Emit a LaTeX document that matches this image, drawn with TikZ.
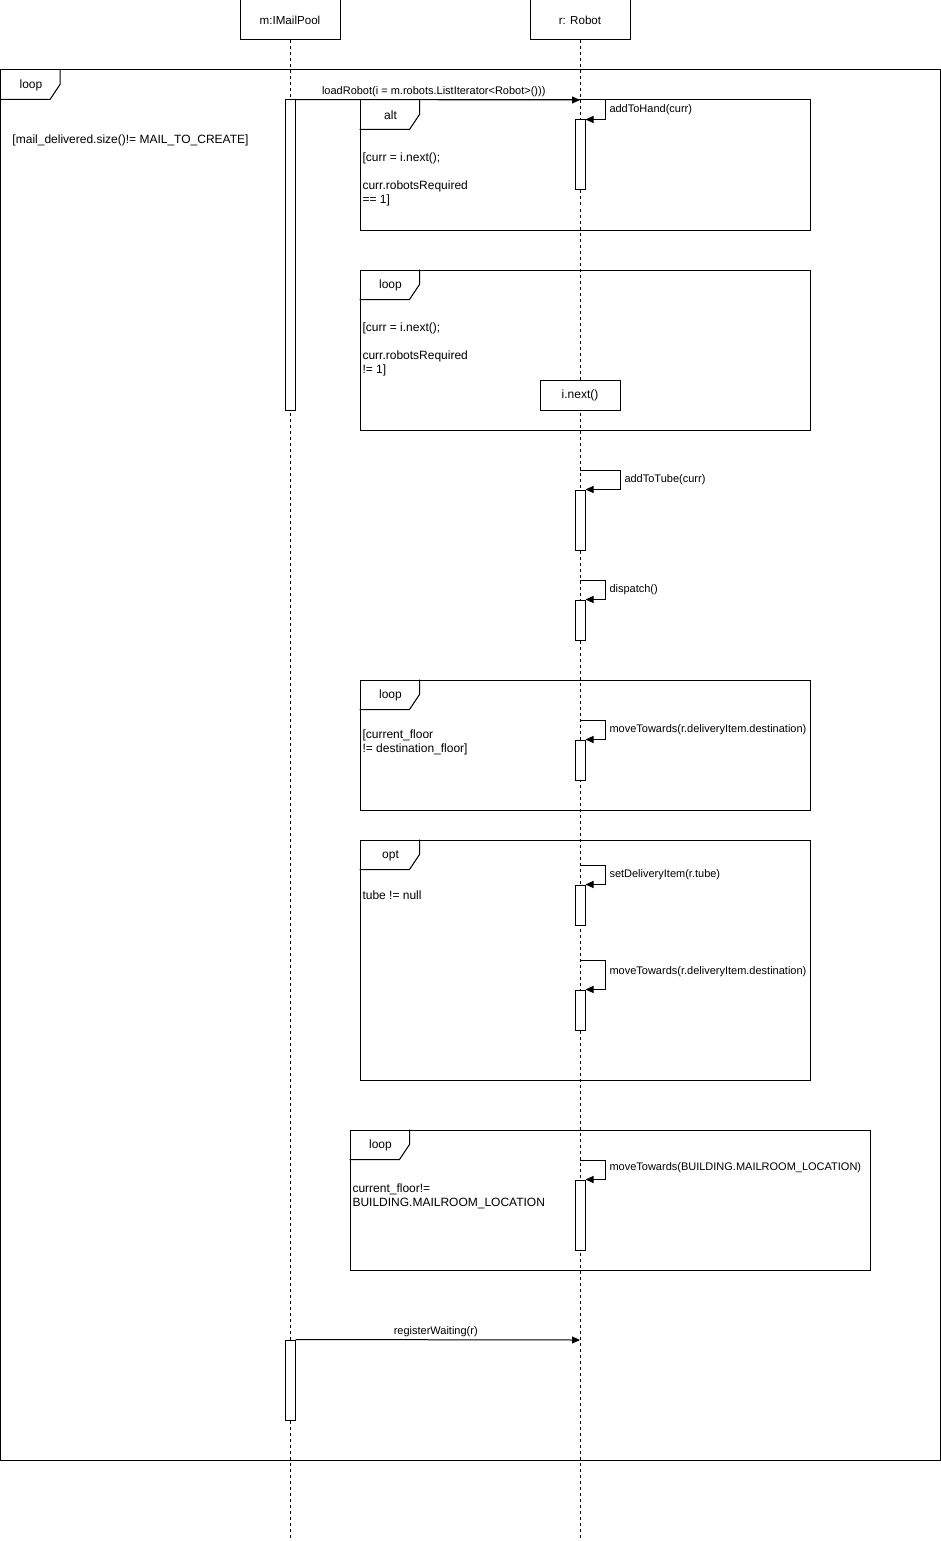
\documentclass[tikz,border=0pt]{standalone}
\usepackage{fontspec}
\setmainfont{Liberation Sans}
\usetikzlibrary{arrows.meta}
\newcommand{\tabfrm}[2]{%
  \draw (#1.north west) ++(0,30) -- ++(50,0) -- ++(10,-15) -- ++(0,-15);
  \path (#1.north west) ++(31,16) node[inner sep=0, font=\fontsize{12}{14}\selectfont] (#1-tab) {#2};}
\begin{document}
\begin{tikzpicture}[x=1pt,y=-1pt, line width=1pt,
  font=\fontsize{11}{13.5}\selectfont,
  head/.style={draw, minimum width=100pt, minimum height=40pt, inner sep=0, font=\fontsize{11.6}{14}\selectfont},
  life/.style={dash pattern=on 3pt off 3pt},
  act/.style={draw, fill=white, minimum width=10pt, inner sep=0},
  frm/.style={draw, inner sep=0},
  txt/.style={inner sep=0, anchor=west, align=left},
  grd/.style={txt, font=\fontsize{12}{14}\selectfont},
  msg/.style={-{Triangle[length=8pt,width=7pt]}},
]
\useasboundingbox (0,0) rectangle (941,1541);

% lifelines
\node[head] (m) at (290,20) {m:IMailPool};
\node[head] (r) at (580,20) {r: Robot};
\coordinate (mend) at (290,1538);
\coordinate (rend) at (580,1538);
\draw[life] (m.south) -- (mend);
\draw[life] (r.south) -- (rend);

% frames
\node[frm, minimum width=939.5pt, minimum height=1390pt] (outer) at (470.25,765) {};
\tabfrm{outer}{loop}
\node[frm, minimum width=450pt, minimum height=130pt] (alt) at (585,165) {};
\tabfrm{alt}{alt}
\node[frm, minimum width=450pt, minimum height=160pt] (loopb) at (585,350) {};
\tabfrm{loopb}{loop}
\node[frm, minimum width=450pt, minimum height=130pt] (loopc) at (585,745) {};
\tabfrm{loopc}{loop}
\node[frm, minimum width=450pt, minimum height=240pt] (opt) at (585,960) {};
\tabfrm{opt}{opt}
\node[frm, minimum width=520pt, minimum height=140pt] (loopd) at (610,1200) {};
\tabfrm{loopd}{loop}

% guards
\node[grd] (g0) at (12,140) {[mail\_delivered.size()!= MAIL\_TO\_CREATE]};
\node[grd] (g1) at (362,179) {[curr = i.next();\\[14pt]curr.robotsRequired\\== 1]};
\node[grd] (g2) at (362,349) {[curr = i.next();\\[14pt]curr.robotsRequired\\!= 1]};
\node[grd] (g3) at (362,742) {[current\_floor\\!= destination\_floor]};
\node[grd] (g4) at (362,895) {tube != null};
\node[grd] (g5) at (352,1196.5) {current\_floor!=\\BUILDING.MAILROOM\_LOCATION};

% activations
\node[act, minimum height=310pt] (mA1) at (290,255) {};
\node[act, minimum height=80pt] (mA2) at (290,1380) {};
\node[act, minimum height=70pt] (rA1) at (580,155) {};
\node[act, minimum height=60pt] (rA2) at (580,520) {};
\node[act, minimum height=40pt] (rA3) at (580,620) {};
\node[act, minimum height=40pt] (rA4) at (580,760) {};
\node[act, minimum height=40pt] (rA5) at (580,905) {};
\node[act, minimum height=40pt] (rA6) at (580,1010) {};
\node[act, minimum height=70pt] (rA7) at (580,1215) {};
\node[draw, fill=white, minimum width=80pt, minimum height=30pt, inner sep=0, font=\fontsize{12}{14}\selectfont] (inext) at (580,395) {i.next()};

% messages
\coordinate (t1) at (580,100);
\draw[msg] (mA1.north east) -- node[above=2.5pt, inner sep=0, xshift=-4pt] (l1) {loadRobot(i = m.robots.ListIterator<Robot>()))} (t1);
\coordinate (t2) at (580,1340);
\draw[msg] (mA2.north east) -- node[above=2.5pt, inner sep=0, xshift=-2pt] (l2) {registerWaiting(r)} (t2);

% self messages
\coordinate (s1) at (580,100);
\draw[msg] (s1) -- ++(25,0) |- (rA1.north east);
\node[txt] (ls1) at (609,110) {addToHand(curr)};
\coordinate (s2) at (580,470);
\draw[msg] (s2) -- ++(40,0) |- (rA2.north east);
\node[txt] (ls2) at (624,480) {addToTube(curr)};
\coordinate (s3) at (580,580);
\draw[msg] (s3) -- ++(25,0) |- (rA3.north east);
\node[txt] (ls3) at (609,590) {dispatch()};
\coordinate (s4) at (580,720);
\draw[msg] (s4) -- ++(25,0) |- (rA4.north east);
\node[txt] (ls4) at (609,730) {moveTowards(r.deliveryItem.destination)};
\coordinate (s5) at (580,865);
\draw[msg] (s5) -- ++(25,0) |- (rA5.north east);
\node[txt] (ls5) at (609,875) {setDeliveryItem(r.tube)};
\coordinate (s6) at (580,960);
\draw[msg] (s6) -- ++(25,0) |- (rA6.north east);
\node[txt] (ls6) at (609,972) {moveTowards(r.deliveryItem.destination)};
\coordinate (s7) at (580,1160);
\draw[msg] (s7) -- ++(25,0) |- (rA7.north east);
\node[txt] (ls7) at (609,1168) {moveTowards(BUILDING.MAILROOM\_LOCATION)};
\end{tikzpicture}
\end{document}
